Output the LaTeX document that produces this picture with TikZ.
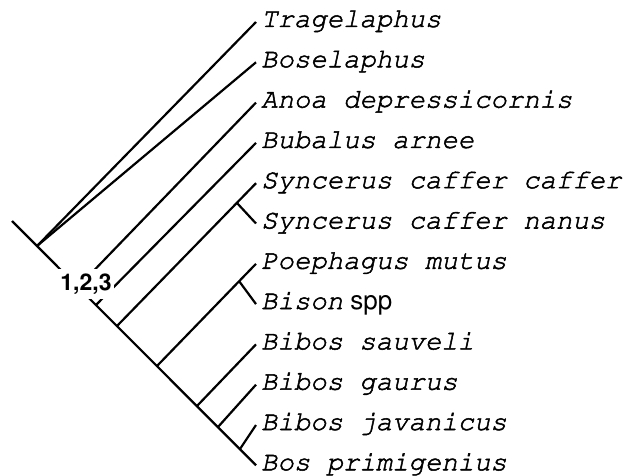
\documentclass[tikz,border=0pt]{standalone}
\usepackage[T1]{fontenc}
\usepackage{courier}
\usepackage{helvet}
\newcommand{\heavytext}[1]{\special{pdf:literal 2 Tr 0.5 w}#1\special{pdf:literal 0 Tr}}

\begin{document}
\begin{tikzpicture}[x=1pt,y=-1pt,
        branch/.style={line width=2.2pt},
        taxon/.style={anchor=west,inner xsep=5pt,inner ysep=0pt,text height=15pt,text depth=5pt,
            font=\fontfamily{pcr}\itshape\fontsize{27.3}{30}\selectfont},
        cladelbl/.style={fill=white,inner xsep=2pt,inner ysep=5pt,
            font=\fontfamily{phv}\bfseries\fontsize{23}{26}\selectfont}]
            \useasboundingbox (0,0) rectangle (624,476);

            \node[taxon] (trag)  at (256,22)    {\heavytext{Tragelaphus}};
            \node[taxon] (bose)  at (256,62.3)  {\heavytext{Boselaphus}};
            \node[taxon] (anoa)  at (256,102.6) {\heavytext{Anoa depressicornis}};
            \node[taxon] (buba)  at (256,142.9) {\heavytext{Bubalus arnee}};
            \node[taxon] (caffer) at (256,183.2) {\heavytext{Syncerus caffer caffer}};
            \node[taxon] (nanus) at (256,223.5) {\heavytext{Syncerus caffer nanus}};
            \node[taxon] (poeph) at (256,263.8) {\heavytext{Poephagus mutus}};
            \node[taxon] (bison) at (256,304.1) {\heavytext{Bison}{\upshape\fontfamily{phv}\fontsize{26}{30}\selectfont\ spp}};
            \node[taxon] (sauv)  at (256,344.4) {\heavytext{Bibos sauveli}};
            \node[taxon] (gaur)  at (256,384.7) {\heavytext{Bibos gaurus}};
            \node[taxon] (java)  at (256,425)   {\heavytext{Bibos javanicus}};
            \node[taxon] (bos)   at (256,465.3) {\heavytext{Bos primigenius}};

            \coordinate (root) at (12,221);
            \coordinate (n1) at (37,246);
            \coordinate (n2) at (78,287);
            \coordinate (n3) at (96,305);
            \coordinate (n4) at (117,326);
            \coordinate (s1) at (237,203);
            \coordinate (n5) at (157,366);
            \coordinate (s2) at (239,281);
            \coordinate (n6) at (197,406);
            \coordinate (n7) at (218,427);
            \coordinate (n8) at (240,449);

            \draw[branch] (root)--(bos.west);

            \draw[branch] (n1)--(trag.west);
            \draw[branch] (n1)--(bose.west);
            \draw[branch] (n2)--(anoa.west);
            \draw[branch] (n3)--(buba.west);
            \draw[branch] (n4)--(caffer.west);
            \draw[branch] (s1)--(nanus.west);
            \draw[branch] (n5)--(poeph.west);
            \draw[branch] (s2)--(bison.west);
            \draw[branch] (n6)--(sauv.west);
            \draw[branch] (n7)--(gaur.west);
            \draw[branch] (n8)--(java.west);

            \node[cladelbl] (chars) at (86,284) {1,2,3};
        \end{tikzpicture}
\end{document}
